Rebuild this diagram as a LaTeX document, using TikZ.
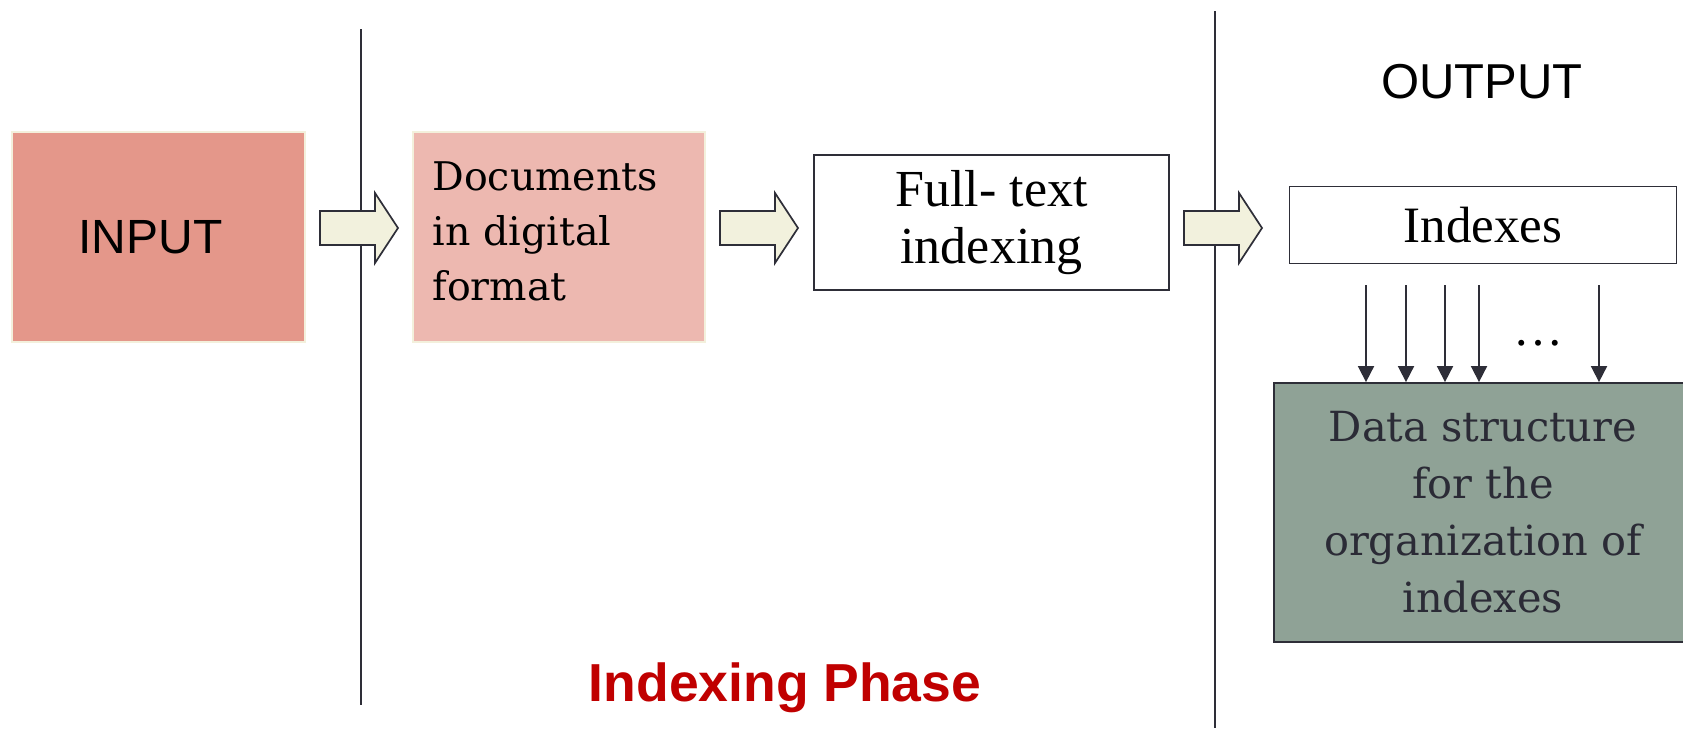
\documentclass[tikz,border=0pt]{standalone}
\usepackage{fontspec}
\usetikzlibrary{arrows.meta}
\newfontfamily\sansf{Liberation Sans}
\newfontfamily\timesf{Liberation Serif}
\newfontfamily\georgf{DejaVu Serif}
\definecolor{inputfill}{HTML}{E4978A}
\definecolor{docfill}{HTML}{EDB8B0}
\definecolor{paleedge}{HTML}{F3F0DC}
\definecolor{arrowfill}{HTML}{F2F1DD}
\definecolor{inkline}{HTML}{2E2E38}
\definecolor{dsfill}{HTML}{8FA296}
\definecolor{dstext}{HTML}{2B2B36}
\definecolor{phasered}{HTML}{C00000}
\begin{document}
\begin{tikzpicture}[x=1pt,y=-1pt,
  softbox/.style={draw=paleedge, line width=1.5pt, inner sep=0pt},
  inkbox/.style={draw=inkline, line width=1.8pt, fill=white, inner sep=0pt, align=center},
  divider/.style={draw=inkline, line width=2pt},
  downarrow/.style={draw=inkline, line width=1.8pt, -{Triangle[width=16pt,length=16pt]}},
  barrow/.pic={\draw[fill=arrowfill, draw=inkline, line width=1.7pt, line join=miter]
    (0,-17) -- (55,-17) -- (55,-35) -- (78,0) -- (55,35) -- (55,17) -- (0,17) -- cycle;}
]
\useasboundingbox (0,0) rectangle (1683,728);

% phase dividers
\coordinate (l1top) at (361,29);
\coordinate (l1bot) at (361,705);
\coordinate (l2top) at (1215,11);
\coordinate (l2bot) at (1215,728);
\draw[divider] (l1top) -- (l1bot);
\draw[divider] (l2top) -- (l2bot);

% pipeline boxes
\node[softbox, fill=inputfill, minimum width=293pt, minimum height=210pt,
      font=\sansf\fontsize{48}{58}\selectfont] (input) at (158.5,237) {INPUT\hspace*{16pt}};
\node[softbox, fill=docfill, minimum width=292pt, minimum height=210pt] (docs) at (559,237) {};
\node[inner sep=0pt, anchor=west, text width=252pt, align=left,
      font=\georgf\fontsize{39.5}{55}\selectfont] (docslabel) at ([xshift=20pt,yshift=6pt]docs.west)
      {Documents\\ in digital\\ format};
\node[inkbox, minimum width=355pt, minimum height=135pt,
      font=\timesf\fontsize{52}{57}\selectfont] (fulltext) at (991.5,222.5) {Full- text\\indexing};
\node[inkbox, minimum width=387pt, minimum height=77pt,
      font=\timesf\fontsize{51}{57}\selectfont] (indexes) at (1483,225) {Indexes};
\node[draw=inkline, line width=1.8pt, fill=dsfill, text=dstext, minimum width=418pt,
      minimum height=259pt, align=center, font=\georgf\fontsize{41.5}{57}\selectfont]
      (ds) at (1483,512.5) {Data structure\\ for the\\ organization of\\ indexes};

% block arrows between stages
\pic (arrA) at (320,228) {barrow};
\pic (arrB) at (720,228) {barrow};
\pic (arrC) at (1184,228) {barrow};

% index streams into the data structure
\foreach \n/\x in {a/1366,b/1406,c/1445,d/1479,e/1599}{
  \coordinate (tap\n) at (\x,0);
  \draw[downarrow, shorten <=21pt] (indexes.south -| tap\n) -- (ds.north -| tap\n);
}
\node[font=\timesf\fontsize{50}{58}\selectfont] (dots) at (1538,343) {…};

% headings
\node[font=\sansf\fontsize{49}{58}\selectfont] (output) at (1482,82) {OUTPUT};
\node[text=phasered, font=\sansf\bfseries\fontsize{53.5}{64}\selectfont] (phase) at (785,688) {Indexing Phase};
\end{tikzpicture}
\end{document}
